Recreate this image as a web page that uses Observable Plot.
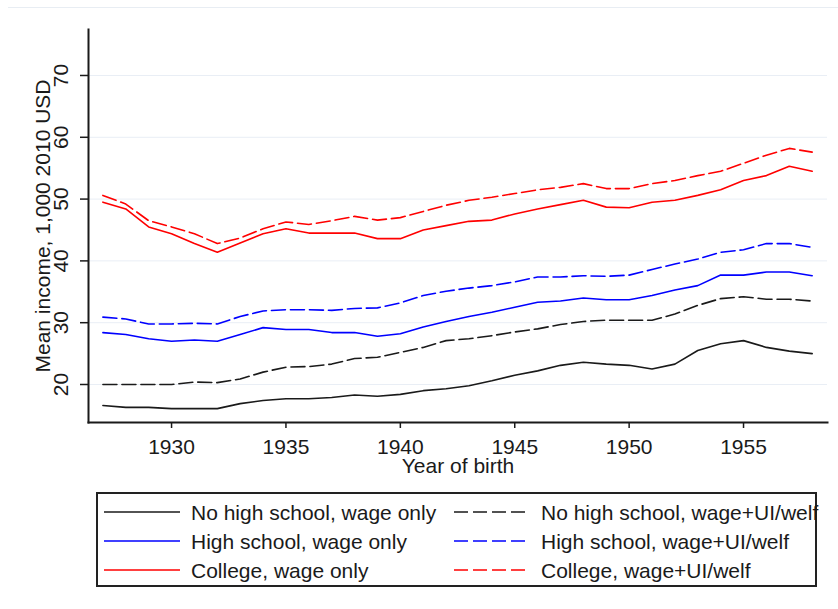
<!DOCTYPE html>
<html>
<head>
<meta charset="utf-8">
<script src="https://cdn.jsdelivr.net/npm/d3@7"></script>
<script src="https://cdn.jsdelivr.net/npm/@observablehq/plot@0.6"></script>
<style>
  html, body { margin: 0; padding: 0; background: #fff; }
  #wrap { position: relative; width: 838px; height: 609px; overflow: hidden; font-family: "Liberation Sans", Arial, sans-serif; color: #1a1a1a; }
  #topline { position: absolute; left: 8px; right: 0; top: 7px; height: 0; border-top: 1px solid #e8edf3; }
  #chart { position: absolute; left: 0; top: 0; }
  #legend { position: absolute; left: 96px; top: 492px; width: 721px; height: 95px; box-sizing: border-box; border: 2px solid #222; background: #fff; overflow: visible; }
  .item { position: absolute; height: 24px; display: flex; align-items: center; white-space: nowrap; font-size: 21px; line-height: 1; }
  .item svg { display: block; margin-right: 11px; }
</style>
</head>
<body>
<div id="wrap">
  <div id="topline"></div>
  <div id="chart"></div>
  <div id="legend"></div>
</div>
<script>
// ---- data ----
const years = [1927, 1928, 1929, 1930, 1931, 1932, 1933, 1934, 1935, 1936, 1937, 1938, 1939, 1940, 1941, 1942,
               1943, 1944, 1945, 1946, 1947, 1948, 1949, 1950, 1951, 1952, 1953, 1954, 1955, 1956, 1957, 1958];

const noHsWage = [16.6, 16.3, 16.3, 16.1, 16.1, 16.1, 16.9, 17.4, 17.7, 17.7, 17.9, 18.3, 18.1, 18.4, 19.0, 19.3,
                  19.8, 20.6, 21.5, 22.2, 23.1, 23.6, 23.3, 23.1, 22.5, 23.3, 25.5, 26.6, 27.1, 26.0, 25.4, 25.0];
const noHsWelf = [20.0, 20.0, 20.0, 20.0, 20.4, 20.3, 20.9, 22.0, 22.8, 22.9, 23.3, 24.2, 24.4, 25.2, 26.0, 27.1,
                  27.4, 27.9, 28.5, 29.0, 29.7, 30.2, 30.4, 30.4, 30.4, 31.4, 32.8, 33.9, 34.2, 33.8, 33.8, 33.5];
const hsWage   = [28.4, 28.1, 27.4, 27.0, 27.2, 27.0, 28.1, 29.2, 28.9, 28.9, 28.4, 28.4, 27.8, 28.2, 29.3, 30.2,
                  31.0, 31.7, 32.5, 33.3, 33.5, 34.0, 33.7, 33.7, 34.4, 35.3, 36.0, 37.7, 37.7, 38.2, 38.2, 37.6];
const hsWelf   = [30.9, 30.6, 29.8, 29.8, 29.9, 29.8, 31.0, 31.9, 32.1, 32.1, 32.0, 32.3, 32.4, 33.2, 34.4, 35.1,
                  35.6, 36.0, 36.6, 37.4, 37.4, 37.6, 37.5, 37.7, 38.6, 39.5, 40.3, 41.4, 41.8, 42.8, 42.8, 42.2];
const colWage  = [49.5, 48.4, 45.5, 44.4, 42.8, 41.4, 42.9, 44.4, 45.2, 44.5, 44.5, 44.5, 43.6, 43.6, 45.0, 45.7,
                  46.4, 46.6, 47.6, 48.4, 49.1, 49.8, 48.7, 48.6, 49.5, 49.8, 50.6, 51.5, 53.0, 53.8, 55.3, 54.5];
const colWelf  = [50.6, 49.2, 46.5, 45.5, 44.4, 42.8, 43.7, 45.2, 46.3, 45.9, 46.5, 47.2, 46.6, 47.0, 48.0, 49.0,
                  49.8, 50.3, 50.9, 51.5, 51.9, 52.5, 51.7, 51.7, 52.5, 53.0, 53.8, 54.5, 55.8, 57.1, 58.2, 57.6];

const seriesNames = ["No high school, wage only", "No high school, wage+UI/welf",
                     "High school, wage only", "High school, wage+UI/welf",
                     "College, wage only", "College, wage+UI/welf"];
const seriesValues = [noHsWage, noHsWelf, hsWage, hsWelf, colWage, colWelf];
const seriesColors = ["#1a1a1a", "#1a1a1a", "#0000ff", "#0000ff", "#ff0000", "#ff0000"];
const seriesDashed = [false, true, false, true, false, true];

const xTicks = [1930, 1935, 1940, 1945, 1950, 1955];
const yTicks = [20, 30, 40, 50, 60, 70];
const xTitle = "Year of birth";
const yTitle = "Mean income, 1,000 2010 USD";

// ---- chart ----
const FONT = "'Liberation Sans', Arial, sans-serif";
const DASH = "14,5";

const lineMarks = seriesValues.map((vals, s) =>
  Plot.line(vals, {
    x: (d, i) => years[i],
    y: d => d,
    stroke: seriesColors[s],
    strokeWidth: 1.6,
    strokeDasharray: seriesDashed[s] ? DASH : null,
    curve: "linear"
  })
);

const chart = Plot.plot({
  width: 838,
  height: 480,
  marginLeft: 88,
  marginRight: 11,
  marginTop: 29,
  marginBottom: 58,
  style: { fontFamily: FONT, fontSize: "21px", color: "#1a1a1a", background: "transparent" },
  x: { domain: [1926.37, 1958.67] },
  y: { domain: [13.85, 77.44] },
  marks: [
    Plot.gridY({ ticks: yTicks, stroke: "#e9eef5", strokeOpacity: 1, strokeWidth: 1 }),
    ...lineMarks,
    Plot.frame({ anchor: "left", stroke: "#1a1a1a", strokeWidth: 2 }),
    Plot.frame({ anchor: "bottom", stroke: "#1a1a1a", strokeWidth: 2 }),
    Plot.axisY({ ticks: yTicks, tickSize: 8, tickFormat: () => "", label: null, stroke: "#1a1a1a", strokeWidth: 1.5 }),
    Plot.text(yTicks, {
      y: d => d, text: d => String(d), frameAnchor: "left", dx: -27,
      rotate: -90, textAnchor: "middle", lineAnchor: "middle", fontSize: 21, fill: "#1a1a1a"
    }),
    Plot.axisX({ ticks: xTicks, tickSize: 6, tickPadding: 11, tickFormat: d => String(d), label: null,
                 fontSize: 21, stroke: "#1a1a1a", strokeWidth: 1.5, fill: "#1a1a1a" }),
    Plot.text([xTitle], { text: d => d, frameAnchor: "bottom", dy: 36, lineAnchor: "top", fontSize: 21, fill: "#1a1a1a" }),
    Plot.text([yTitle], { text: d => d, frameAnchor: "left", dx: -45, rotate: -90,
                          textAnchor: "middle", lineAnchor: "middle", fontSize: 21, fill: "#1a1a1a" })
  ]
});
document.getElementById("chart").appendChild(chart);

// ---- legend ----
const legend = document.getElementById("legend");
const rowCenters = [20, 49, 78];      // relative to box top (outer)
const colSwatchX = [8, 358];          // relative to box left (outer)
const order = [[0, 1], [2, 3], [4, 5]];
order.forEach((pair, r) => {
  pair.forEach((s, c) => {
    const item = document.createElement("div");
    item.className = "item";
    item.style.left = (colSwatchX[c] - 2) + "px";
    item.style.top = (rowCenters[r] - 2 - 12) + "px";
    const ns = "http://www.w3.org/2000/svg";
    const sw = document.createElementNS(ns, "svg");
    sw.setAttribute("width", "76");
    sw.setAttribute("height", "6");
    const ln = document.createElementNS(ns, "line");
    ln.setAttribute("x1", "0"); ln.setAttribute("x2", "76");
    ln.setAttribute("y1", "3"); ln.setAttribute("y2", "3");
    ln.setAttribute("stroke", seriesColors[s]);
    ln.setAttribute("stroke-width", "1.6");
    if (seriesDashed[s]) ln.setAttribute("stroke-dasharray", DASH);
    sw.appendChild(ln);
    item.appendChild(sw);
    const t = document.createElement("span");
    t.textContent = seriesNames[s];
    item.appendChild(t);
    legend.appendChild(item);
  });
});
</script>
</body>
</html>
